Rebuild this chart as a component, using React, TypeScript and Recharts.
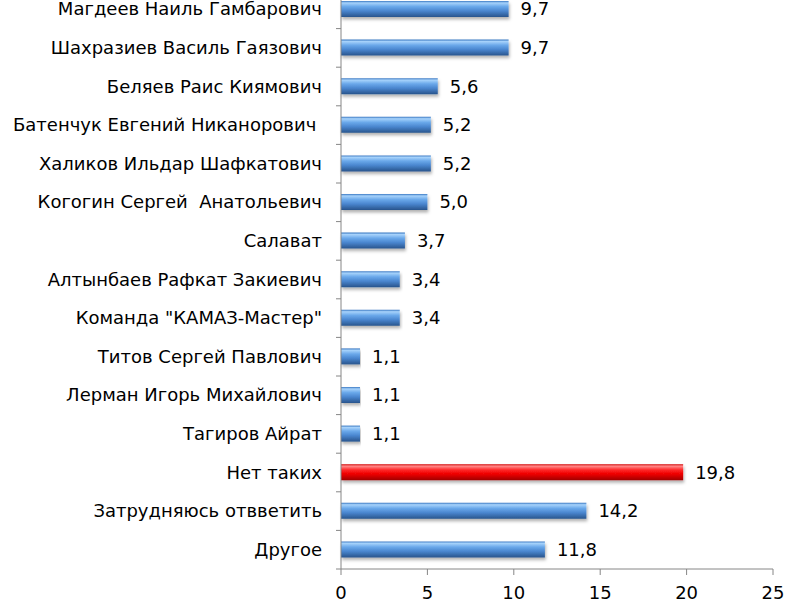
import React from "react";
import { Bar, BarChart, Cell, LabelList, XAxis, YAxis } from "recharts";

const names = [
  "Магдеев Наиль Гамбарович",
  "Шахразиев Василь Гаязович",
  "Беляев Раис Киямович",
  "Батенчук Евгений Никанорович\u00a0",
  "Халиков Ильдар Шафкатович",
  "Когогин Сергей \u00a0Анатольевич",
  "Салават",
  "Алтынбаев Рафкат Закиевич",
  "Команда \"КАМАЗ-Мастер\"",
  "Титов Сергей Павлович",
  "Лерман Игорь Михайлович",
  "Тагиров Айрат",
  "Нет таких",
  "Затрудняюсь отвветить",
  "Другое",
];
const values = [9.7, 9.7, 5.6, 5.2, 5.2, 5.0, 3.7, 3.4, 3.4, 1.1, 1.1, 1.1, 19.8, 14.2, 11.8];
const highlighted = ["Нет таких"];
const xTicks = [0, 5, 10, 15, 20, 25];

const data = names.map((name, i) => ({ name, value: values[i] }));

const W = 787;
const H = 616;
const X_AXIS_H = 37;
const band = (H - X_AXIS_H) / names.length;
const font = "DejaVu Sans";

function CategoryTick(props: any) {
  const { x, y, payload } = props;
  return (
    <g>
      <text x={x} y={y} dy={6} textAnchor="end" fontFamily={font} fontSize={18} fill="#000" style={{ whiteSpace: "pre" }}>
        {payload.value}
      </text>
      <line x1={x + 14} x2={x + 19} y1={y + band / 2} y2={y + band / 2} stroke="#868686" />
    </g>
  );
}

function XTick(props: any) {
  const { x, y, payload } = props;
  return (
    <text x={x} y={y} dy={20} textAnchor="middle" fontFamily={font} fontSize={18} fill="#000">
      {payload.value}
    </text>
  );
}

export default function App() {
  return (
    <div style={{ position: "absolute", left: 0, top: -10, width: W, height: H }}>
      <BarChart width={W} height={H} data={data} layout="vertical" margin={{ top: 0, right: 14, left: 0, bottom: 0 }}>
        <defs>
          <linearGradient id="blueBar" x1="0" y1="0" x2="0" y2="1">
            <stop offset="0%" stopColor="#3a78c2" />
            <stop offset="12%" stopColor="#a6d2fb" />
            <stop offset="35%" stopColor="#6aa8ea" />
            <stop offset="62%" stopColor="#4a86cf" />
            <stop offset="100%" stopColor="#28548c" />
          </linearGradient>
          <linearGradient id="redBar" x1="0" y1="0" x2="0" y2="1">
            <stop offset="0%" stopColor="#d00000" />
            <stop offset="12%" stopColor="#ff8a8a" />
            <stop offset="35%" stopColor="#ff2a2a" />
            <stop offset="62%" stopColor="#ee0000" />
            <stop offset="100%" stopColor="#a00000" />
          </linearGradient>
          <filter id="barShadow" x="-5%" y="-30%" width="110%" height="180%">
            <feDropShadow dx="1" dy="2.5" stdDeviation="1.5" floodColor="#000" floodOpacity="0.3" />
          </filter>
        </defs>
        <XAxis
          type="number"
          domain={[0, 25]}
          ticks={xTicks}
          height={X_AXIS_H}
          axisLine={{ stroke: "#868686" }}
          tickLine={{ stroke: "#868686" }}
          tickSize={6}
          tickMargin={4}
          tick={<XTick />}
        />
        <YAxis
          type="category"
          dataKey="name"
          width={341}
          axisLine={{ stroke: "#868686" }}
          tickLine={false}
          tickSize={5}
          tickMargin={14}
          interval={0}
          tick={<CategoryTick />}
        />
        <Bar dataKey="value" barSize={16} isAnimationActive={false}>
          {data.map((d) => (
            <Cell
              key={d.name}
              fill={highlighted.includes(d.name) ? "url(#redBar)" : "url(#blueBar)"}
              filter="url(#barShadow)"
            />
          ))}
          <LabelList
            dataKey="value"
            position="right"
            offset={12}
            formatter={(v: any) => Number(v).toFixed(1).replace(".", ",")}
            fontFamily={font}
            fontSize={18}
            fill="#000"
          />
        </Bar>
      </BarChart>
    </div>
  );
}
